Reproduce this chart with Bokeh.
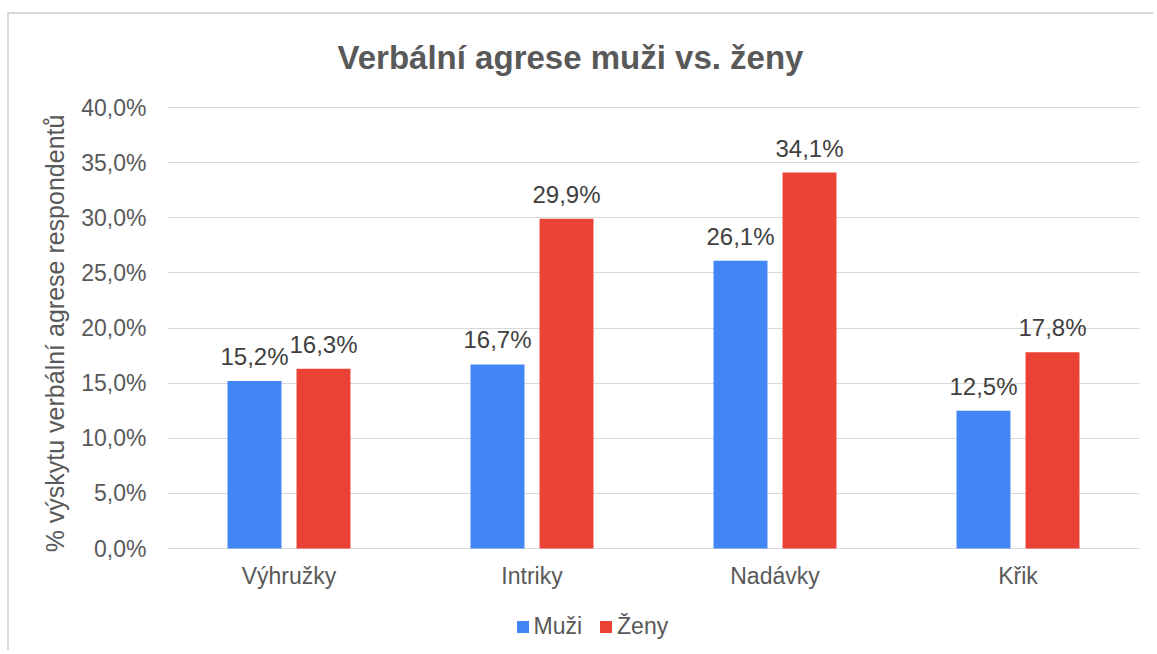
from bokeh.plotting import figure
from bokeh.models import (FactorRange, Range1d, ColumnDataSource, LabelSet, Label,
                          Legend, LegendItem, FixedTicker)
from bokeh.transform import dodge
from bokeh.core.properties import value
from bokeh.embed import file_html
from bokeh.resources import INLINE

categories = ["Výhružky", "Intriky", "Nadávky", "Křik"]
muzi = [15.2, 16.7, 26.1, 12.5]
zeny = [16.3, 29.9, 34.1, 17.8]
series_names = ["Muži", "Ženy"]
ytick_values = [0, 5, 10, 15, 20, 25, 30, 35, 40]
ytick_labels = ["0,0%", "5,0%", "10,0%", "15,0%", "20,0%", "25,0%", "30,0%", "35,0%", "40,0%"]
title_text = "Verbální agrese muži vs. ženy"
ylabel_text = "% výskytu verbální agrese respondentů"

FONT = "Liberation Sans"
BLUE = "#4285F4"
RED = "#EA4335"
GRAY = "#595959"

def fmt(v):
    return ("%.1f" % v).replace(".", ",") + "%"

src = ColumnDataSource(dict(
    cat=categories,
    muzi=muzi,
    zeny=zeny,
    muzi_lbl=[fmt(v) for v in muzi],
    zeny_lbl=[fmt(v) for v in zeny],
))

# layout (pixels): plot body spans the whole canvas height; value axis 0..40
# occupies 441 px, leaving room above for the title and below for labels/legend
CANVAS_H = 638
PX_PER_UNIT = 441 / 40.0
Y_TOP_PAD = 93 / PX_PER_UNIT
Y_BOTTOM_PAD = 104 / PX_PER_UNIT

p = figure(x_range=FactorRange(*categories),
           y_range=Range1d(-Y_BOTTOM_PAD, 40 + Y_TOP_PAD),
           width=1146, height=CANVAS_H, output_backend="svg", toolbar_location=None,
           x_axis_location=None,
           min_border_left=158, min_border_right=16, min_border_top=0,
           min_border_bottom=0)
p.styles = {"border-left": "2px solid #d9d9d9", "border-top": "2px solid #d9d9d9",
            "margin-top": "12px", "margin-left": "7px"}
p.outline_line_color = None
p.background_fill_color = "white"
p.border_fill_color = "white"

bw = 0.222
off = 0.142
r1 = p.vbar(x=dodge("cat", -off, range=p.x_range), top="muzi", width=bw,
            source=src, fill_color=BLUE, line_color=None)
r2 = p.vbar(x=dodge("cat", off, range=p.x_range), top="zeny", width=bw,
            source=src, fill_color=RED, line_color=None)

for col, lbl, o in (("muzi", "muzi_lbl", -off), ("zeny", "zeny_lbl", off)):
    ls = LabelSet(x=dodge("cat", o, range=p.x_range), y=col, text=lbl, source=src,
                  text_align="center", text_baseline="alphabetic", y_offset=16,
                  text_font=value(FONT), text_font_size="24px", text_color="#404040")
    p.add_layout(ls)

# category labels under the baseline
p.add_layout(LabelSet(x="cat", y=0, text="cat", source=src, y_offset=-35,
                      text_align="center", text_baseline="alphabetic",
                      text_font=value(FONT), text_font_size="23px", text_color=GRAY))

# grid
p.xgrid.grid_line_color = None
p.ygrid.grid_line_color = "#d9d9d9"
p.ygrid.grid_line_width = 1
p.ygrid.ticker = FixedTicker(ticks=ytick_values)

# y axis
p.yaxis.ticker = FixedTicker(ticks=ytick_values)
p.yaxis.major_label_overrides = {v: l for v, l in zip(ytick_values, ytick_labels)}
p.yaxis.axis_line_color = None
p.yaxis.major_tick_line_color = None
p.yaxis.minor_tick_line_color = None
p.yaxis.major_tick_out = 0
p.yaxis.major_tick_in = 0
p.yaxis.major_label_standoff = 21
p.yaxis.major_label_text_font = FONT
p.yaxis.major_label_text_font_size = "23px"
p.yaxis.major_label_text_color = GRAY
p.yaxis.axis_label = ylabel_text
p.yaxis.axis_label_standoff = 9
p.yaxis.axis_label_text_font = FONT
p.yaxis.axis_label_text_font_size = "25px"
p.yaxis.axis_label_text_font_style = "normal"
p.yaxis.axis_label_text_color = GRAY

# chart title (screen units measured from the plot body's bottom-left corner)
p.add_layout(Label(x=403, y=595, x_units="screen", y_units="screen", text=title_text,
                   text_align="center", text_baseline="alphabetic",
                   text_font=FONT, text_font_size="33px", text_font_style="bold",
                   text_color=GRAY))

legend = Legend(items=[LegendItem(label=series_names[0], renderers=[r1]),
                       LegendItem(label=series_names[1], renderers=[r2])],
                location=(347.5, 12), orientation="horizontal",
                glyph_width=15, glyph_height=15, label_standoff=4, spacing=16,
                padding=0, margin=0, border_line_color=None,
                background_fill_alpha=0,
                label_text_font=FONT, label_text_font_size="23px",
                label_text_color=GRAY)
p.add_layout(legend)

open("out.html", "w").write(file_html(p, INLINE))
